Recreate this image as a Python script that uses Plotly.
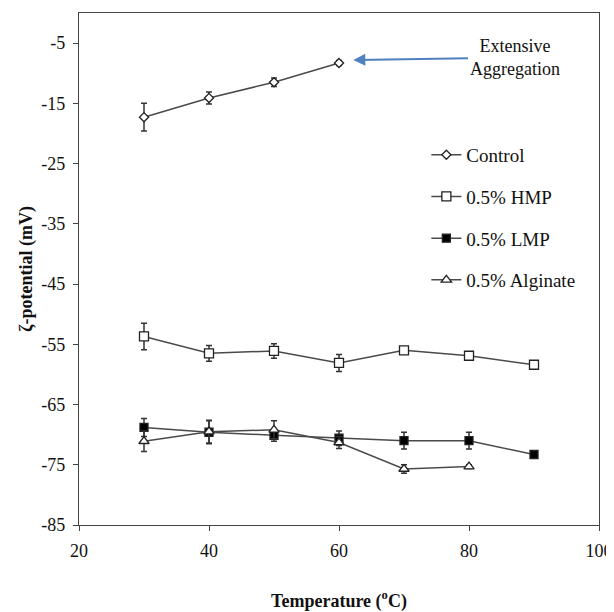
import plotly.graph_objects as go

temps_control = [30, 40, 50, 60]
control = [-17.3, -14.1, -11.5, -8.3]
control_err = [2.3, 1.0, 0.7, 0.4]

temps = [30, 40, 50, 60, 70, 80, 90]
hmp = [-53.7, -56.5, -56.1, -58.1, -56.0, -56.9, -58.4]
hmp_err = [2.2, 1.3, 1.2, 1.4, 0.5, 0.4, 0.3]

lmp = [-68.8, -69.6, -70.1, -70.6, -71.0, -71.0, -73.3]
lmp_err = [1.5, 1.9, 1.0, 1.2, 1.4, 1.4, 0.3]

temps_alg = [30, 40, 50, 60, 70, 80]
alginate = [-71.1, -69.5, -69.2, -71.3, -75.7, -75.3]
alg_err = [1.7, 1.9, 1.5, 1.0, 0.7, 0.3]

series_names = ["Control", "0.5% HMP", "0.5% LMP", "0.5% Alginate"]

x_ticks = [20, 40, 60, 80, 100]
y_ticks = [-5, -15, -25, -35, -45, -55, -65, -75, -85]

LINE = "#4a4a4a"
FONT = "Liberation Serif, Times New Roman, serif"
TXT = "#111111"

fig = go.Figure()

def add(name, x, y, err, symbol, size, fill, grp):
    fig.add_trace(go.Scatter(
        x=x, y=y, name=name, mode="lines+markers", legendgroup=grp,
        line=dict(color=LINE, width=1.5),
        marker=dict(symbol=symbol, size=size, color=fill,
                    line=dict(color="#222222", width=1.3)),
        error_y=dict(type="data", array=err, visible=True, color="#333333",
                     thickness=1.5, width=3),
    ))

add(series_names[0], temps_control, control, control_err, "diamond", 7, "white", "a")
add(series_names[1], temps, hmp, hmp_err, "square", 9, "white", "b")
add(series_names[2], temps, lmp, lmp_err, "square", 8, "black", "c")
add(series_names[3], temps_alg, alginate, alg_err, "triangle-up", 9, "white", "d")

fig.add_annotation(x=62.2, y=-7.8, ax=87, ay=-7.4, axref="x", ayref="y",
                   xref="x", yref="y", text="Extensive<br>Aggregation", showarrow=True,
                   arrowhead=2, arrowsize=1.2, arrowwidth=2, arrowcolor="#4f81bd",
                   font=dict(family=FONT, size=18, color=TXT), align="center")

fig.update_layout(
    width=606, height=604,
    margin=dict(l=71, r=15, t=5, b=87),
    paper_bgcolor="white", plot_bgcolor="white",
    font=dict(family=FONT, color=TXT),
    showlegend=True,
    legend=dict(x=0.668, y=0.76, xanchor="left", yanchor="top",
                font=dict(family=FONT, size=19, color=TXT),
                tracegroupgap=14, bgcolor="rgba(0,0,0,0)", itemwidth=30),
    xaxis=dict(range=[20, 100], tickvals=x_ticks, ticktext=[str(v) for v in x_ticks],
               showgrid=False, zeroline=False, automargin=False,
               showline=True, linecolor="#444444", linewidth=1.2, mirror=True,
               ticks="outside", ticklen=5, tickcolor="#444444", ticklabelstandoff=4,
               tickfont=dict(family=FONT, size=18, color=TXT),
               title=dict(text="<b>Temperature (<sup>o</sup>C)</b>",
                          font=dict(family=FONT, size=18, color=TXT), standoff=35)),
    yaxis=dict(range=[-85, 0], tickvals=y_ticks, ticktext=[str(v) for v in y_ticks],
               showgrid=False, zeroline=False, automargin=False,
               showline=True, linecolor="#444444", linewidth=1.2, mirror=True,
               ticks="outside", ticklen=5, tickcolor="#444444", ticklabelstandoff=4,
               tickfont=dict(family=FONT, size=18, color=TXT),
               title=dict(text="<b>ζ-potential (mV)</b>",
                          font=dict(family=FONT, size=18, color=TXT), standoff=3)),
)

fig.write_html("out.html")
